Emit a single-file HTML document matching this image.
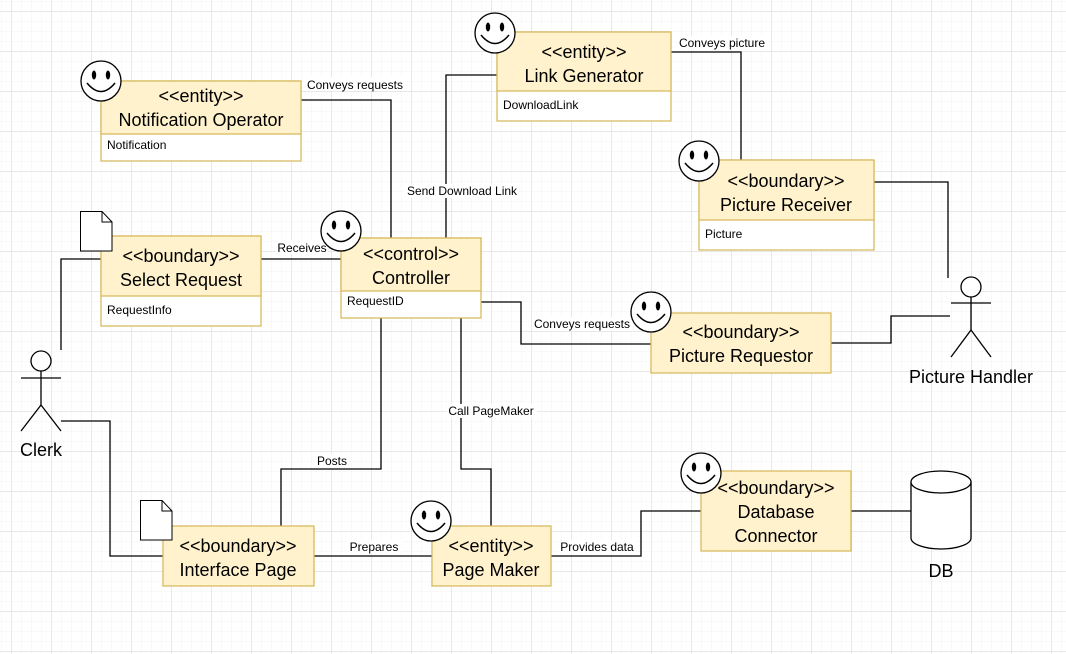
<!DOCTYPE html>
<html><head><meta charset="utf-8"><style>
html,body{margin:0;padding:0;background:#fff;}
svg{display:block;font-family:"Liberation Sans",sans-serif;}
</style></head><body>
<svg width="1066" height="654" viewBox="0 0 1066 654" xmlns="http://www.w3.org/2000/svg">
<defs>
<pattern id="g" width="10" height="10" patternUnits="userSpaceOnUse" x="1" y="1">
<path d="M10 0H0V10" fill="none" stroke="#f3f3f3" stroke-width="1"/>
</pattern>
<pattern id="G" width="40" height="40" patternUnits="userSpaceOnUse" x="11.5" y="11.5">
<path d="M40 0H0V40" fill="none" stroke="#dcdcdc" stroke-width="1"/>
</pattern>
<g id="sm">
<circle cx="21" cy="21" r="20" fill="#fff" stroke="#000" stroke-width="1.3"/>
<ellipse cx="14" cy="15" rx="2.2" ry="4.5" fill="#000"/>
<ellipse cx="28" cy="15" rx="2.2" ry="4.5" fill="#000"/>
<path d="M7 23 Q21 40 35 23" fill="none" stroke="#000" stroke-width="1.5"/>
</g>
<g id="doc">
<path d="M0.5 0.5H22L32 11V40H0.5Z" fill="#fff" stroke="#000"/>
<path d="M22 0.5V11H32" fill="none" stroke="#000"/>
</g>
</defs>
<rect width="1066" height="654" fill="url(#g)"/>
<rect width="1066" height="654" fill="url(#G)"/>

<g fill="none" stroke="#000" stroke-width="1.3">
<path d="M61 350V259H101"/>
<path d="M61 421H110V556H163"/>
<path d="M261 259H341"/>
<path d="M301 100H391V238"/>
<path d="M497 75H446V238"/>
<path d="M671 52H741V160"/>
<path d="M874 182H948V278"/>
<path d="M481 302H521V344H651"/>
<path d="M831 343H891V316H950"/>
<path d="M381 318V469H281V526"/>
<path d="M461 318V469H491V526"/>
<path d="M314 556H432"/>
<path d="M551 556H641V511H701"/>
<path d="M851 511H911"/>
</g>

<g font-size="12" fill="#000" text-anchor="middle">
<rect x="276" y="240" width="52" height="14" fill="#fff"/>
<text x="302" y="252">Receives</text>
<rect x="305" y="77" width="100" height="14" fill="#fff"/>
<text x="355" y="89">Conveys requests</text>
<rect x="405" y="184" width="114" height="14" fill="#fff"/>
<text x="462" y="195">Send Download Link</text>
<rect x="676" y="36" width="92" height="14" fill="#fff"/>
<text x="722" y="47">Conveys picture</text>
<rect x="532" y="317" width="100" height="14" fill="#fff"/>
<text x="582" y="328">Conveys requests</text>
<rect x="315" y="454" width="34" height="14" fill="#fff"/>
<text x="332" y="465">Posts</text>
<rect x="447" y="404" width="90" height="14" fill="#fff"/>
<text x="491" y="415">Call PageMaker</text>
<rect x="348" y="540" width="54" height="14" fill="#fff"/>
<text x="374" y="551">Prepares</text>
<rect x="558" y="540" width="78" height="14" fill="#fff"/>
<text x="597" y="551">Provides data</text>
</g>

<g stroke="#d6b656" stroke-width="1.2">
<rect x="101" y="81" width="200" height="80" fill="#fff"/><rect x="101" y="81" width="200" height="53" fill="#fff2cc"/>
<rect x="497" y="32" width="174" height="89" fill="#fff"/><rect x="497" y="32" width="174" height="59" fill="#fff2cc"/>
<rect x="699" y="160" width="175" height="90" fill="#fff"/><rect x="699" y="160" width="175" height="60" fill="#fff2cc"/>
<rect x="101" y="236" width="160" height="90" fill="#fff"/><rect x="101" y="236" width="160" height="60" fill="#fff2cc"/>
<rect x="341" y="238" width="140" height="80" fill="#fff"/><rect x="341" y="238" width="140" height="53" fill="#fff2cc"/>
<rect x="651" y="313" width="180" height="60" fill="#fff2cc"/>
<rect x="163" y="526" width="151" height="60" fill="#fff2cc"/>
<rect x="432" y="526" width="119" height="60" fill="#fff2cc"/>
<rect x="701" y="471" width="150" height="80" fill="#fff2cc"/>
</g>

<g font-size="18" fill="#000" text-anchor="middle">
<text x="201" y="102">&lt;&lt;entity&gt;&gt;</text><text x="201" y="126">Notification Operator</text>
<text x="584" y="58">&lt;&lt;entity&gt;&gt;</text><text x="584" y="82">Link Generator</text>
<text x="786" y="187">&lt;&lt;boundary&gt;&gt;</text><text x="786" y="211">Picture Receiver</text>
<text x="181" y="262">&lt;&lt;boundary&gt;&gt;</text><text x="181" y="286">Select Request</text>
<text x="411" y="260">&lt;&lt;control&gt;&gt;</text><text x="411" y="284">Controller</text>
<text x="741" y="338">&lt;&lt;boundary&gt;&gt;</text><text x="741" y="362">Picture Requestor</text>
<text x="238" y="552">&lt;&lt;boundary&gt;&gt;</text><text x="238" y="576">Interface Page</text>
<text x="491" y="552">&lt;&lt;entity&gt;&gt;</text><text x="491" y="576">Page Maker</text>
<text x="776" y="494">&lt;&lt;boundary&gt;&gt;</text><text x="776" y="518">Database</text><text x="776" y="542">Connector</text>
<text x="941" y="577">DB</text>
<text x="41" y="456">Clerk</text>
<text x="971" y="383">Picture Handler</text>
</g>
<g font-size="12" fill="#000">
<text x="107" y="149">Notification</text>
<text x="503" y="109">DownloadLink</text>
<text x="705" y="238">Picture</text>
<text x="107" y="314">RequestInfo</text>
<text x="347" y="305">RequestID</text>
</g>

<use href="#sm" x="80" y="60"/>
<use href="#sm" x="474" y="12"/>
<use href="#sm" x="678" y="140"/>
<use href="#sm" x="320" y="210"/>
<use href="#sm" x="630" y="291"/>
<use href="#sm" x="410" y="500"/>
<use href="#sm" x="680" y="452"/>
<use href="#doc" x="80" y="211"/>
<use href="#doc" x="140" y="500"/>

<g fill="#fff" stroke="#000" stroke-width="1.3">
<path d="M911 482V538A30 11 0 0 0 971 538V482"/>
<ellipse cx="941" cy="482" rx="30" ry="11"/>
</g>

<g fill="none" stroke="#000" stroke-width="1.3">
<circle cx="41" cy="361" r="10" fill="#fff"/>
<path d="M21 378H61M41 371V405L21 431M41 405L61 431"/>
<circle cx="971" cy="287" r="10" fill="#fff"/>
<path d="M951 303H991M971 297V330L951 357M971 330L991 357"/>
</g>
</svg>
</body></html>
